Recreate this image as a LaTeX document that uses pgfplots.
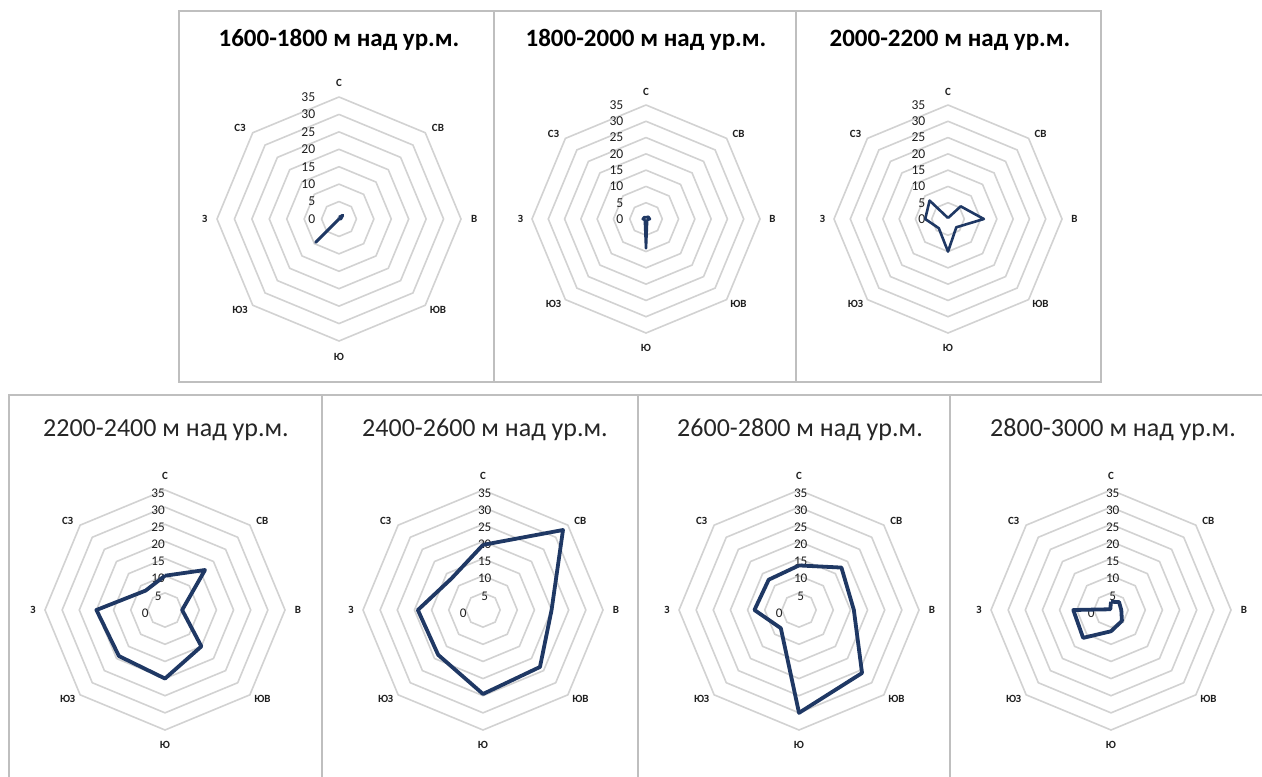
\documentclass[border=0pt]{standalone}
\usepackage{pgfplots}
\pgfplotsset{compat=1.18}
\usepgfplotslibrary{polar}
\usepackage{fontspec}
\setmainfont{Carlito}
\definecolor{gridc}{HTML}{D2D2D2}
\definecolor{navy}{HTML}{1F3864}
\definecolor{framec}{HTML}{BFBFBF}
\definecolor{labc}{HTML}{202020}

\pgfplotsset{radar/.style={scale only axis, width=#1, height=#1,
  xmin=-35, xmax=35, ymin=-35, ymax=35, hide axis, clip=false, anchor=center}}

\newcommand{\radargrid}{%
  \pgfplotsinvokeforeach{5,10,15,20,25,30,35}{%
    \addplot[gridc, line width=0.8pt, data cs=polar] coordinates
      {(90,##1) (45,##1) (0,##1) (-45,##1) (-90,##1) (-135,##1) (180,##1) (135,##1) (90,##1)};
  }%
}
\newcommand{\radarcats}{%
  \begin{scope}[every node/.style={font=\bfseries\fontsize{5.5}{6}\selectfont, text=labc}]
  \node at (axis cs:0,39) {С};
  \node at (axis cs:28.4,26) {СВ};
  \node at (axis cs:38.8,0) {В};
  \node at (axis cs:28.4,-26) {ЮВ};
  \node at (axis cs:0,-39.5) {Ю};
  \node at (axis cs:-28.4,-26) {ЮЗ};
  \node at (axis cs:-38.5,0) {З};
  \node at (axis cs:-28.4,26) {СЗ};
  \end{scope}
}
\newcommand{\tickstop}{%
  \begin{scope}[every node/.style={font=\fontsize{6.8}{7}\selectfont, text=labc, anchor=east}]
  \pgfplotsinvokeforeach{0,5,10,15,20,25,30,35}{\node at (axis cs:-4.8,##1) {##1};}
  \end{scope}
}
\newcommand{\ticksbottom}[1]{%
  \begin{scope}[every node/.style={font=\fontsize{6.6}{7}\selectfont, text=labc, yshift=-1.5pt}]
  \pgfplotsinvokeforeach{5,10,15,20,25,30,35}{\node at (axis cs:#1,##1) {##1};}
  \node at (axis cs:-5.8,0) {0};
  \end{scope}
}

\begin{document}
\begin{tikzpicture}[x=0.5pt,y=0.5pt]
\useasboundingbox (0,0) rectangle (1262,776);
\fill[white] (0,0) rectangle (1262,776);
% frames
\begin{scope}[framec, line width=0.6pt]
\draw (179,394) rectangle (494,765);
\draw (494,394) rectangle (796,765);
\draw (796,394) rectangle (1101,765);
\draw (9,-5) rectangle (322,381);
\draw (322,-5) rectangle (638,381);
\draw (638,-5) rectangle (950,381);
\draw (950,-5) rectangle (1270,381);
\end{scope}
% titles
\begin{scope}[every node/.style={anchor=base, text=black}]
\node[font=\bfseries\fontsize{12.5}{14}\selectfont] at (339,729) {1600-1800 м над ур.м.};
\node[font=\bfseries\fontsize{12.5}{14}\selectfont] at (646,729) {1800-2000 м над ур.м.};
\node[font=\bfseries\fontsize{12.5}{14}\selectfont] at (950,729) {2000-2200 м над ур.м.};
\node[font=\fontsize{13}{15}\selectfont, text=black!85] at (166,339) {2200-2400 м над ур.м.};
\node[font=\fontsize{13}{15}\selectfont, text=black!85] at (485,339) {2400-2600 м над ур.м.};
\node[font=\fontsize{13}{15}\selectfont, text=black!85] at (800,339) {2600-2800 м над ур.м.};
\node[font=\fontsize{13}{15}\selectfont, text=black!85] at (1113,339) {2800-3000 м над ур.м.};
\end{scope}

% 1600-1800
\begin{axis}[radar=122pt, at={(169.5pt,278.5pt)}]
\radargrid
\radarcats
\tickstop
\addplot[navy, line width=1.5pt, line join=round, data cs=polar] coordinates
 {(90,0.5) (45,1.5) (0,0.5) (-45,0) (-90,0) (-135,9.5) (180,0) (135,0) (90,0.5)};
\end{axis}

% 1800-2000
\begin{axis}[radar=114pt, at={(323pt,278.5pt)}]
\radargrid
\radarcats
\tickstop
\addplot[navy, line width=1.3pt, line join=round, data cs=polar] coordinates
 {(90,0.5) (45,1) (0,1.2) (-45,0.5) (-90,9) (-135,0.5) (180,1) (135,0.8) (90,0.5)};
\end{axis}

% 2000-2200
\begin{axis}[radar=114pt, at={(474pt,278.5pt)}]
\radargrid
\radarcats
\tickstop
\addplot[navy, line width=1.3pt, line join=round, data cs=polar] coordinates
 {(90,0.3) (45,5.5) (0,11) (-45,3.6) (-90,10) (-135,4) (180,7) (135,8) (90,0.3)};
\end{axis}

% 2200-2400
\begin{axis}[radar=120pt, at={(82.5pt,83pt)}]
\radargrid
\radarcats
\ticksbottom{-2}
\addplot[navy, line width=1.9pt, line join=round, data cs=polar] coordinates
 {(90,10) (45,16.5) (0,5) (-45,15) (-90,20) (-135,19) (180,20) (135,8) (90,10)};
\end{axis}

% 2400-2600
\begin{axis}[radar=120pt, at={(241.5pt,83pt)}]
\radargrid
\radarcats
\ticksbottom{0.5}
\addplot[navy, line width=1.9pt, line join=round, data cs=polar] coordinates
 {(90,19) (45,33) (0,20) (-45,23.5) (-90,24.5) (-135,18.5) (180,19) (135,13) (90,19)};
\end{axis}

% 2600-2800
\begin{axis}[radar=120pt, at={(399.5pt,83pt)}]
\radargrid
\radarcats
\ticksbottom{0.5}
\addplot[navy, line width=1.9pt, line join=round, data cs=polar] coordinates
 {(90,13) (45,17.5) (0,16) (-45,26) (-90,30) (-135,7.5) (180,13) (135,12.5) (90,13)};
\end{axis}

% 2800-3000
\begin{axis}[radar=120pt, at={(555.5pt,83pt)}]
\radargrid
\radarcats
\ticksbottom{0.5}
\addplot[navy, line width=1.9pt, line join=round, data cs=polar] coordinates
 {(90,2.4) (45,3.3) (0,3) (-45,4.5) (-90,6.2) (-135,11.5) (180,11) (135,0.3) (90,2.4)};
\end{axis}
\end{tikzpicture}
\end{document}
